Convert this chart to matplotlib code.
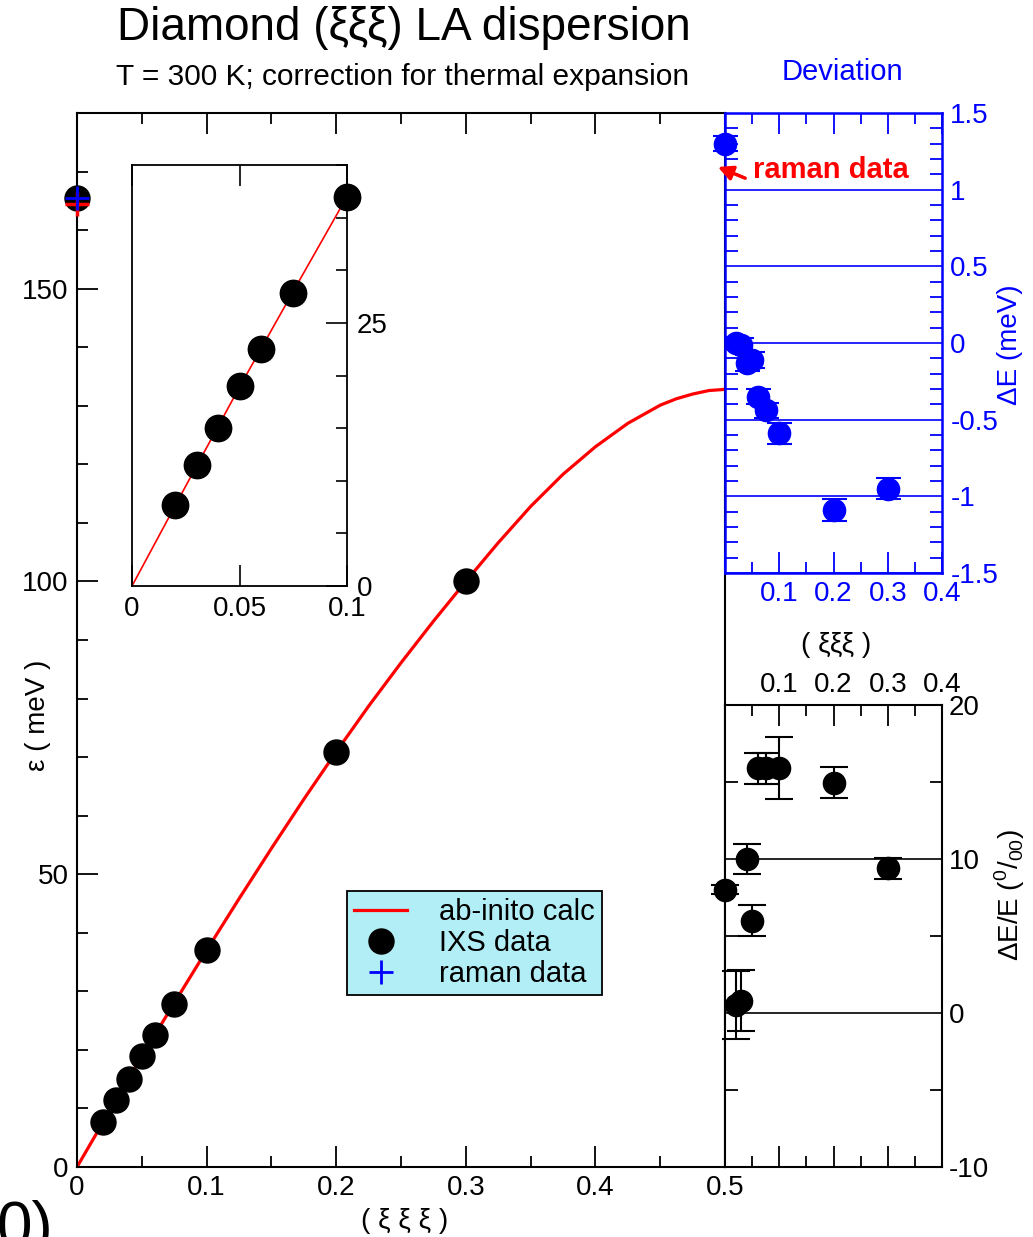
import numpy as np
import matplotlib.pyplot as plt
from matplotlib.lines import Line2D
from matplotlib.ticker import MultipleLocator, FixedLocator, FuncFormatter

plt.rcParams['font.family'] = ['Liberation Sans', 'DejaVu Sans']
plt.rcParams['axes.unicode_minus'] = False
plt.rcParams['mathtext.fontset'] = 'custom'
plt.rcParams['mathtext.rm'] = 'Liberation Sans'

# ab-initio LA branch
calc_q = [0, 0.025, 0.05, 0.075, 0.1, 0.125, 0.15, 0.175, 0.2, 0.225, 0.25,
          0.275, 0.3, 0.325, 0.35, 0.375, 0.4, 0.425, 0.45, 0.4625, 0.475, 0.4875, 0.5]
calc_e = [0, 9.5, 18.9, 28.0, 37.0, 45.8, 54.4, 62.8, 70.9, 78.7, 86.1,
          93.2, 100.0, 106.6, 112.8, 118.3, 123.0, 127.0, 130.1, 131.2, 132.0, 132.6, 132.8]
calc_gamma_q = [0]
calc_gamma_e = [164.4]

# IXS data (meV)
ixs_q = [0, 0.02, 0.03, 0.04, 0.05, 0.06, 0.075, 0.1, 0.2, 0.3]
ixs_e = [165.5, 7.7, 11.5, 15.0, 19.0, 22.5, 27.8, 37.0, 70.9, 100.0]

# raman data
raman_q = [0]
raman_e = [165.4]

# deviation Delta E (meV)
dev_q = [0, 0.02, 0.03, 0.04, 0.05, 0.06, 0.075, 0.1, 0.2, 0.3]
dev_e = [1.30, 0.0, -0.01, -0.13, -0.11, -0.35, -0.44, -0.59, -1.09, -0.95]
dev_err = [0.05, 0.04, 0.04, 0.05, 0.05, 0.05, 0.05, 0.07, 0.07, 0.07]

# relative deviation Delta E / E (per mille)
rel_q = [0, 0.02, 0.03, 0.04, 0.05, 0.06, 0.075, 0.1, 0.2, 0.3]
rel_e = [8.0, 0.5, 0.8, 10.0, 6.0, 15.9, 15.9, 15.9, 14.95, 9.4]
rel_err = [0.3, 2.2, 2.0, 1.0, 1.0, 1.0, 1.0, 2.0, 1.0, 0.67]

W, H = 1033, 1237


def box(l, t, r, b):
    return [l / W, (H - b) / H, (r - l) / W, (b - t) / H]


def fmt_g(skip_zero=False):
    return FuncFormatter(lambda v, p: '' if (skip_zero and abs(v) < 1e-9) else '%g' % round(v, 3))


def ftext(x, y, s, **kw):
    # text placed at reference pixel position (centre)
    kw.setdefault('ha', 'center')
    kw.setdefault('va', 'center')
    fig.text(x / W, 1 - y / H, s, **kw)


fig = plt.figure(figsize=(W / 100, H / 100), dpi=100)
TS = 20

# ---- main panel
ax = fig.add_axes(box(77, 113, 725, 1167))
ax.plot(calc_q, calc_e, color='red', lw=2.3, zorder=2)
ax.plot(ixs_q, ixs_e, 'o', color='black', ms=18, zorder=3, clip_on=False)
ax.plot(calc_gamma_q, calc_gamma_e, '+', color='red', ms=17, mew=2.5, zorder=4, clip_on=False)
ax.plot(raman_q, raman_e, '+', color='blue', ms=17, mew=2.0, zorder=5, clip_on=False)
ax.set_xlim(0, 0.5)
ax.set_ylim(0, 180)
ax.xaxis.set_major_locator(MultipleLocator(0.1))
ax.xaxis.set_minor_locator(MultipleLocator(0.05))
ax.yaxis.set_major_locator(MultipleLocator(50))
ax.yaxis.set_minor_locator(MultipleLocator(10))
ax.xaxis.set_major_formatter(fmt_g())
ax.tick_params(which='both', direction='in', top=True, right=False, labelsize=TS, width=1.3, pad=6)
ax.tick_params(which='major', length=15)
ax.tick_params(which='minor', length=8)
for s in ax.spines.values():
    s.set_linewidth(1.5)
ftext(405, 1221, '( ξ ξ ξ )', fontsize=20)
ftext(38, 715, 'ε ( meV )', fontsize=20, rotation=90)

handles = [Line2D([], [], color='red', lw=2.3),
           Line2D([], [], marker='o', color='black', ls='none', ms=18),
           Line2D([], [], marker='+', color='blue', ls='none', ms=17, mew=2.0)]
leg = ax.legend(handles, ['ab-inito calc', 'IXS data', 'raman data'],
                loc='upper left', bbox_to_anchor=(347 / W, 1 - 891 / H),
                bbox_transform=fig.transFigure, fontsize=21, fancybox=False,
                edgecolor='black', facecolor='#b2eef6', framealpha=1,
                borderpad=0.25, labelspacing=0.1, handlelength=1.8,
                handletextpad=1.1, borderaxespad=0)
leg.get_frame().set_linewidth(1.3)

# ---- inset
axi = fig.add_axes(box(132, 165, 347, 586))
inset_q = [q for q in calc_q if q <= 0.1]
axi.plot(inset_q, calc_e[:len(inset_q)], color='red', lw=1.2, zorder=2)
iq = [q for q in ixs_q if 0 < q <= 0.1]
ie = [e for q, e in zip(ixs_q, ixs_e) if 0 < q <= 0.1]
axi.plot(iq, ie, 'o', color='black', ms=19, zorder=3, clip_on=False)
axi.set_xlim(0, 0.1)
axi.set_ylim(0, 40)
axi.xaxis.set_major_locator(FixedLocator([0, 0.05, 0.1]))
axi.xaxis.set_major_formatter(fmt_g())
axi.yaxis.set_major_locator(FixedLocator([0, 25]))
axi.yaxis.set_minor_locator(MultipleLocator(5))
axi.yaxis.tick_right()
axi.tick_params(which='both', direction='in', top=True, bottom=True, left=False, right=True,
                labelsize=TS, width=1.2, pad=7)
axi.tick_params(which='major', length=15)
axi.tick_params(which='minor', length=8)
axi.tick_params(axis='x', which='minor', length=0)
for s in axi.spines.values():
    s.set_linewidth(1.3)

# ---- deviation panel (meV)
axd = fig.add_axes(box(725, 113, 942, 573))
axd.set_facecolor('white')
axd.errorbar(dev_q, dev_e, yerr=dev_err, fmt='o', color='blue', ms=16, capsize=9,
             elinewidth=1.5, capthick=1.5, clip_on=False, zorder=3)
axd.set_xlim(0, 0.4)
axd.set_ylim(-1.5, 1.5)
axd.yaxis.set_major_locator(FixedLocator([-1.5, -1, -0.5, 0, 0.5, 1, 1.5]))
axd.yaxis.set_minor_locator(MultipleLocator(0.1))
axd.yaxis.set_major_formatter(fmt_g())
axd.xaxis.set_major_locator(MultipleLocator(0.1))
axd.xaxis.set_minor_locator(MultipleLocator(0.05))
axd.xaxis.set_major_formatter(fmt_g(skip_zero=True))
axd.yaxis.tick_right()
axd.grid(axis='y', which='major', color='blue', lw=1.2)
axd.tick_params(which='both', direction='in', top=True, bottom=True, left=True, right=True,
                colors='blue', labelsize=TS, width=1.3, pad=6)
axd.tick_params(axis='x', which='major', length=15)
axd.tick_params(axis='x', which='minor', length=8)
axd.tick_params(axis='y', which='major', length=0)
axd.tick_params(axis='y', which='minor', length=9)
for s in axd.spines.values():
    s.set_color('blue')
    s.set_linewidth(1.8)
ftext(836, 645, '( ξξξ )', fontsize=20)
ftext(1010, 345, 'ΔE (meV)', color='blue', fontsize=20, rotation=90)
ftext(842, 72, 'Deviation', color='blue', fontsize=21)
axd.text(0.052, 1.128, 'raman data', color='red', fontweight='bold', fontsize=21, va='center')
axd.annotate('', xy=(-0.018, 1.155), xytext=(0.042, 1.068), annotation_clip=False,
             arrowprops=dict(arrowstyle='-|>', color='red', lw=2.5, mutation_scale=22))

# ---- relative deviation panel (per mille)
axr = fig.add_axes(box(725, 705, 942, 1167))
axr.set_facecolor('white')
axr.errorbar(rel_q, rel_e, yerr=rel_err, fmt='o', color='black', ms=16, capsize=10,
             elinewidth=1.5, capthick=1.5, clip_on=False, zorder=3)
axr.set_xlim(0, 0.4)
axr.set_ylim(-10, 20)
axr.yaxis.set_major_locator(FixedLocator([-10, 0, 10, 20]))
axr.yaxis.set_minor_locator(FixedLocator([-5, 5, 15]))
axr.xaxis.set_major_locator(MultipleLocator(0.1))
axr.xaxis.set_minor_locator(MultipleLocator(0.05))
axr.xaxis.set_major_formatter(fmt_g(skip_zero=True))
axr.yaxis.tick_right()
axr.grid(axis='y', which='major', color='black', lw=1.2)
axr.tick_params(which='both', direction='in', top=True, bottom=True, left=True, right=True,
                labeltop=True, labelbottom=False, labelsize=TS, width=1.3, pad=5)
axr.tick_params(axis='x', which='major', length=15)
axr.tick_params(axis='x', which='minor', length=8)
axr.tick_params(axis='y', which='major', length=0)
axr.tick_params(axis='y', which='minor', length=9)
for s in axr.spines.values():
    s.set_linewidth(1.5)
ftext(1010, 895, r'ΔE/E ($^{0}/_{00}$)', fontsize=20, rotation=90)

# ---- titles
ftext(404, 28, 'Diamond (ξξξ) LA dispersion', fontsize=33)
ftext(403, 77, 'T = 300 K; correction for thermal expansion', fontsize=21.5)
fig.text(-0.003, -0.008, '0)', fontsize=46, ha='left', va='baseline')

fig.savefig('out.png', dpi=100)
